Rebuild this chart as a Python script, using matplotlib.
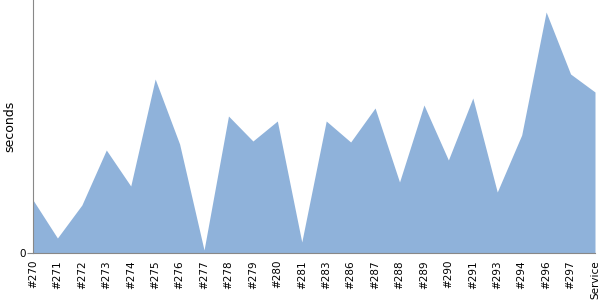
import matplotlib
matplotlib.use("Agg")
import matplotlib.pyplot as plt

builds = ["#270", "#271", "#272", "#273", "#274", "#275", "#276", "#277",
          "#278", "#279", "#280", "#281", "#283", "#286", "#287", "#288",
          "#289", "#290", "#291", "#293", "#294", "#296", "#297", "Service"]
seconds = [53, 15, 48, 103, 67, 174, 109, 3, 137, 112, 132, 11, 132, 111,
           145, 71, 148, 93, 155, 61, 118, 241, 179, 161]

fig = plt.figure(figsize=(6, 3), dpi=100)
ax = fig.add_axes([33/600, 47/300, 562/600, 253/300])

x = range(len(builds))
ax.fill_between(x, seconds, 0, color="#8fb2da", linewidth=0)

ax.set_xlim(0, len(builds) - 1)
ax.set_ylim(0, 253)
ax.set_xticks(list(x))
ax.set_xticklabels(builds, rotation=90, fontsize=7.5)
ax.set_yticks([0])
ax.set_yticklabels(["0"], fontsize=7.5)
ax.tick_params(axis="x", length=0, pad=5)
ax.tick_params(axis="y", length=4, color="#888888", pad=1)
ax.set_ylabel("seconds", fontsize=9, va="center")
# label sits in the narrow left margin
ax.yaxis.set_label_coords(-23/562, 0.5)

for s in ["top", "right"]:
    ax.spines[s].set_visible(False)
for s in ["left", "bottom"]:
    ax.spines[s].set_color("#888888")

fig.savefig("out.png", dpi=100)
